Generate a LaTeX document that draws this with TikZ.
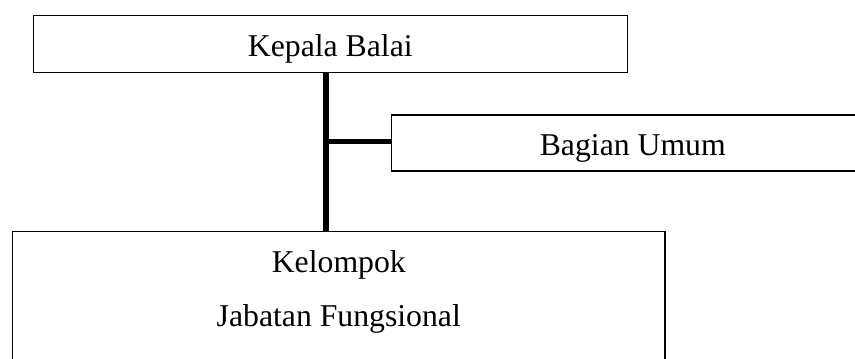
\documentclass[tikz,border=0pt]{standalone}
\usepackage{fontspec}
\setmainfont{Liberation Serif}
\usepackage{tikz}
\usetikzlibrary{positioning,calc}
\tikzstyle{unit}=[draw=black, line width=0.45pt, inner sep=0pt, text height=9.75pt, text depth=0.75pt]
\tikzstyle{group}=[draw=black, line width=0.45pt, inner xsep=0pt, inner ysep=7.2pt, align=center, text depth=30pt]
\tikzstyle{link}=[line width=2.2pt]

\begin{document}
\begin{tikzpicture}[x=0.375pt, y=-0.375pt, font=\fontsize{11.9pt}{20.4pt}\selectfont]
        %
        \clip (0,0) rectangle (855,358);
        \node at (330.3,44) [unit, minimum width=222.75pt, minimum height=21.2pt] (kepala) {Kepala Balai};
        \node at (632.8,143) [unit, minimum width=180.9pt, minimum height=21pt] (umum) {Bagian Umum};
        \node at (338.8,230.7) [group, anchor=north, minimum width=244.6pt] (jabfung) {Kelompok\\Jabatan Fungsional};
        % 
        \coordinate (mid) at (326,141.7);
        \draw[link] (kepala.south -| mid) -- (jabfung.north -| mid);
        \draw[link, line width=1.9pt] (mid) -- (mid -| umum.west);
      \end{tikzpicture}
\end{document}
